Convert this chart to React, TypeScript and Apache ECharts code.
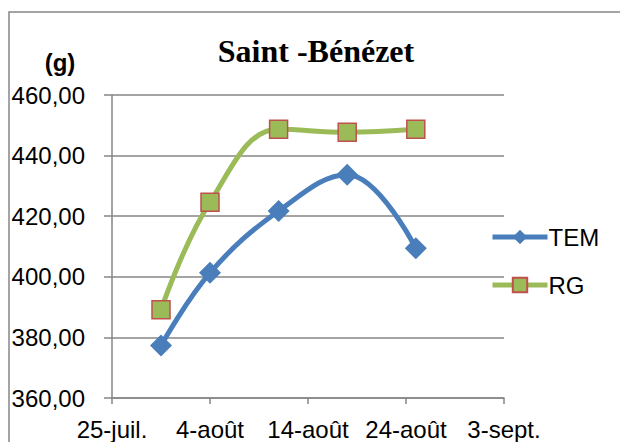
import React, { useEffect, useRef } from "react";
import * as echarts from "echarts";

const title = "Saint -Bénézet";
const unitLabel = "(g)";
const startDate = "2012-07-25";
const xTickLabels = ["25-juil.", "4-août", "14-août", "24-août", "3-sept."];
const sampleDates = ["2012-07-30", "2012-08-04", "2012-08-11", "2012-08-18", "2012-08-25"];
const temValues = [377.3, 401.3, 421.7, 433.7, 409.4];
const rgValues = [389.1, 424.6, 448.7, 447.7, 448.7];
const seriesNames = ["TEM", "RG"];

const DAY = 86400000;
const dayOffset = (d: string) =>
  Math.round((Date.parse(d + "T00:00:00Z") - Date.parse(startDate + "T00:00:00Z")) / DAY);

export default function App() {
  const ref = useRef<HTMLDivElement>(null);
  useEffect(() => {
    if (!ref.current) return;
    const chart = echarts.init(ref.current, null, { renderer: "svg" });
    const font = "Liberation Sans";
    const grey = "#868686";
    const xs = sampleDates.map(dayOffset);
    chart.setOption({
      animation: false,
      backgroundColor: "#ffffff",
      graphic: [
        {
          type: "rect",
          shape: { x: 9, y: 12, width: 700, height: 500 },
          style: { fill: "none", stroke: grey, lineWidth: 1.5 },
          z: 0,
        },
        {
          type: "text",
          x: 316,
          y: 51,
          style: {
            text: title,
            font: "bold 32px 'Liberation Serif'",
            fill: "#000",
            textAlign: "center",
            textVerticalAlign: "middle",
          },
        },
        {
          type: "text",
          x: 60,
          y: 62,
          style: {
            text: unitLabel,
            font: "bold 24px 'Liberation Sans'",
            fill: "#000",
            textAlign: "center",
            textVerticalAlign: "middle",
          },
        },
      ],
      legend: {
        orient: "vertical",
        left: 490,
        top: 225,
        padding: 0,
        itemWidth: 55,
        itemHeight: 18,
        itemGap: 24,
        data: seriesNames,
        lineStyle: { width: 5 },
        textStyle: { fontFamily: font, fontSize: 24, color: "#000", padding: [0, 0, 0, -4] },
      },
      grid: { left: 112, right: 116, top: 95, bottom: 44, containLabel: false },
      xAxis: {
        type: "value",
        min: 0,
        max: 40,
        interval: 10,
        axisLine: { show: true, lineStyle: { color: grey, width: 1.5 } },
        axisTick: { show: true, length: 6, lineStyle: { color: grey, width: 1.5 } },
        splitLine: { show: false },
        axisLabel: {
          margin: 19,
          fontFamily: font,
          fontSize: 24,
          color: "#000",
          formatter: (v: number) => xTickLabels[Math.round(v / 10)] ?? "",
        },
      },
      yAxis: {
        type: "value",
        min: 360,
        max: 460,
        interval: 20,
        axisLine: { show: true, lineStyle: { color: grey, width: 1.5 } },
        axisTick: { show: true, length: 8, lineStyle: { color: grey, width: 1.5 } },
        splitLine: { show: true, lineStyle: { color: grey, width: 1.5 } },
        axisLabel: {
          margin: 27,
          fontFamily: font,
          fontSize: 24,
          color: "#000",
          formatter: (v: number) => v.toFixed(2).replace(".", ","),
        },
      },
      series: [
        {
          name: seriesNames[0],
          type: "line",
          smooth: 0.4,
          data: xs.map((x, i) => [x, temValues[i]]),
          symbol: "diamond",
          symbolSize: 22,
          lineStyle: { color: "#4A7EBB", width: 5 },
          itemStyle: { color: "#4A7EBB" },
          z: 3,
        },
        {
          name: seriesNames[1],
          type: "line",
          smooth: 0.4,
          data: xs.map((x, i) => [x, rgValues[i]]),
          symbol: "rect",
          symbolSize: 18,
          lineStyle: { color: "#9BBB59", width: 5 },
          itemStyle: { color: "#9BBB59", borderColor: "#C0504D", borderWidth: 1.5 },
          z: 3,
        },
      ],
    });
    return () => chart.dispose();
  }, []);
  return (
    <div
      ref={ref}
      style={{ position: "fixed", left: 0, top: 0, width: 620, height: 442 }}
    />
  );
}
